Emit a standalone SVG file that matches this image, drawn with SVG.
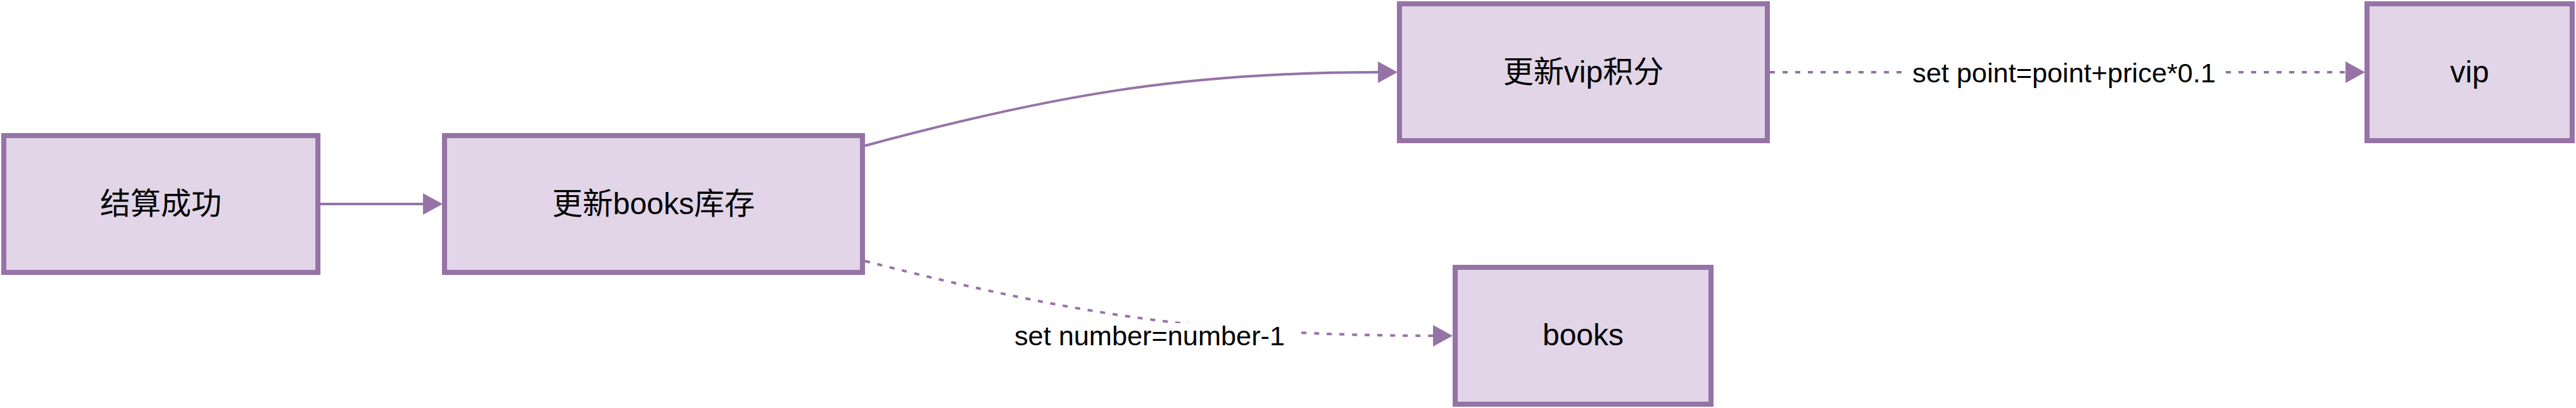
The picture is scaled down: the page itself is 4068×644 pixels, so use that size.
<svg xmlns="http://www.w3.org/2000/svg" width="4068" height="644" viewBox="0 0 4068 644">
  <style>
    .node { fill: #e1d5e7; stroke: #9673a6; stroke-width: 8; }
    .edge { fill: none; stroke: #9673a6; stroke-width: 4; }
    .dotted { stroke-dasharray: 8 12; }
    .ntext { font-family: "Liberation Sans", "Noto Sans CJK SC", Arial, sans-serif; font-size: 48px; fill: #000000; text-anchor: middle; }
    .etext { font-family: "Liberation Sans", Arial, sans-serif; font-size: 43.3px; fill: #000000; text-anchor: middle; }
    .lbg { fill: #ffffff; }
  </style>
  <defs>
    <marker id="arrow" markerUnits="userSpaceOnUse" markerWidth="31" markerHeight="34" refX="0" refY="17" orient="auto" viewBox="0 0 31 34">
      <path d="M0,0 L31,17 L0,34 Z" fill="#9673a6"/>
    </marker>
  </defs>
  <rect width="4068" height="644" fill="#ffffff"/>
  <g id="connectors">
    <path class="edge" d="M506,322 L668,322" marker-end="url(#arrow)"/>
    <path class="edge" d="M1366,230 C1666,149 1876,114 2176,114" marker-end="url(#arrow)"/>
    <path class="edge dotted" d="M2795,114 L3704,114" marker-end="url(#arrow)"/>
    <path class="edge dotted" d="M1366,412 C1710,500 1912,529 2263,530" marker-end="url(#arrow)"/>
    <g id="label-vip">
      <rect class="lbg" x="3012" y="91" width="496" height="48"/>
      <text class="etext" x="3259.5" y="130">set point=point+price*0.1</text>
    </g>
    <g id="label-books">
      <rect class="lbg" x="1596" y="510" width="450" height="46"/>
      <text class="etext" x="1815.5" y="545">set number=number-1</text>
    </g>
  </g>
  <g id="node-checkout">
    <rect class="node" x="6" y="214" width="496" height="216"/>
    <text class="ntext" x="254" y="338">结算成功</text>
  </g>
  <g id="node-update-books">
    <rect class="node" x="702" y="214" width="660" height="216"/>
    <text class="ntext" x="1032" y="338">更新books库存</text>
  </g>
  <g id="node-update-vip">
    <rect class="node" x="2210" y="6" width="581" height="216"/>
    <text class="ntext" x="2500.5" y="130">更新vip积分</text>
  </g>
  <g id="node-vip">
    <rect class="node" x="3738" y="6" width="324" height="216"/>
    <text class="ntext" x="3900" y="130">vip</text>
  </g>
  <g id="node-books">
    <rect class="node" x="2298" y="422" width="404" height="216"/>
    <text class="ntext" x="2500" y="545">books</text>
  </g>
</svg>
